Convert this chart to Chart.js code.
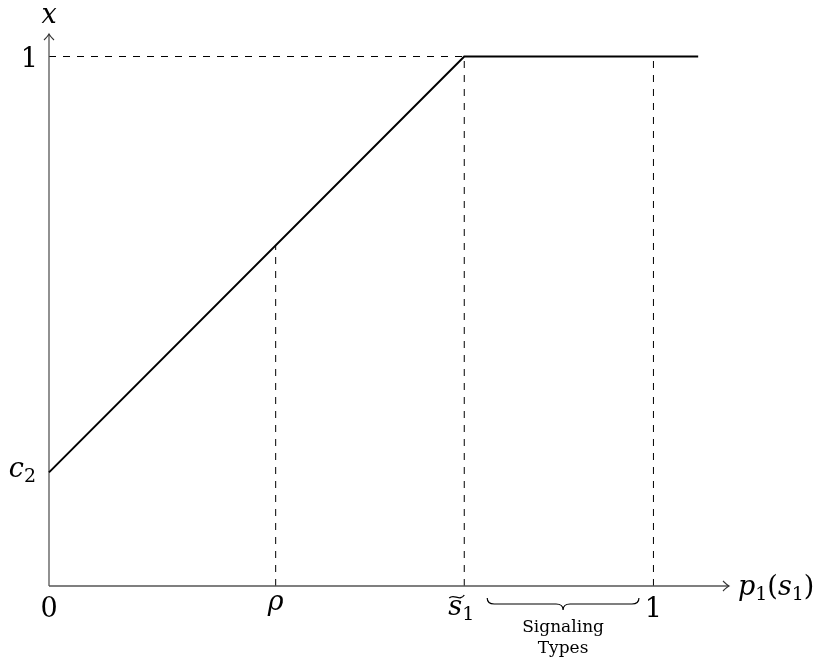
<!DOCTYPE html>
<html>
<head>
<meta charset="utf-8">
<script src="https://cdn.jsdelivr.net/npm/chart.js@4"></script>
<style>
  body { margin: 0; background: #fff; }
  canvas { display: block; }
</style>
</head>
<body>
<canvas id="chart" width="820" height="664"></canvas>
<script>
// The curve: rises linearly from c2 up to 1 at s~1, then stays flat
const curveP = [0, 0.687, 1.074];
const curveX = [0.2146, 1, 1];

// marked points on the horizontal axis
const rho = 0.375;
const sTilde = 0.687;
const one = 1;

// axis extents (where the arrow tips are)
const axisMaxP = 1.125;
const axisMaxX = 1.0425;

// brace under the signaling types
const braceRange = [0.725, 0.976];
const braceLabel = ['Signaling', 'Types'];

// height of the curve at rho, where the dashed line stops
const xAtRho = curveX[0] + (curveX[1] - curveX[0]) * (rho - curveP[0]) / (curveP[1] - curveP[0]);

const toPoints = (xs, ys) => xs.map((v, i) => ({ x: v, y: ys[i] }));

const dashed = {
    borderColor: '#000',
    borderWidth: 1,
    borderDash: [7, 7],
    showLine: true,
    pointRadius: 0,
    clip: false
};

const serif = '"DejaVu Serif", "Liberation Serif", serif';
const mathFont = 'italic 27px ' + serif;
const romanFont = '27px ' + serif;
const subFont = '19px ' + serif;

// draws a row of math pieces, e.g. p_1(s_1), starting at x
function drawMath(ctx, parts, x, y, align) {
    let width = 0;
    parts.forEach(p => {
        ctx.font = p.sub ? subFont : (p.it ? mathFont : romanFont);
        p.w = ctx.measureText(p.t).width;
        width += p.w;
    });
    let cx = align === 'center' ? x - width / 2 : (align === 'right' ? x - width : x);
    const start = cx;
    ctx.textAlign = 'left';
    ctx.textBaseline = 'alphabetic';
    parts.forEach(p => {
        ctx.font = p.sub ? subFont : (p.it ? mathFont : romanFont);
        ctx.fillText(p.t, cx, p.sub ? y + 5 : y);
        cx += p.w;
    });
    return start;
}

const decorations = {
    id: 'decorations',
    afterDatasetsDraw(chart) {
        const ctx = chart.ctx;
        const px = v => chart.scales.x.getPixelForValue(v);
        const py = v => chart.scales.y.getPixelForValue(v);
        ctx.save();

        // arrow heads
        ctx.strokeStyle = '#333';
        ctx.lineWidth = 1.1;
        const tx = px(axisMaxP), ty = py(0);
        ctx.beginPath();
        ctx.moveTo(tx - 6, ty - 5);
        ctx.quadraticCurveTo(tx - 2, ty - 1, tx, ty);
        ctx.quadraticCurveTo(tx - 2, ty + 1, tx - 6, ty + 5);
        ctx.stroke();
        const ux = px(0), uy = py(axisMaxX);
        ctx.beginPath();
        ctx.moveTo(ux - 5, uy + 6);
        ctx.quadraticCurveTo(ux - 1, uy + 2, ux, uy);
        ctx.quadraticCurveTo(ux + 1, uy + 2, ux + 5, uy + 6);
        ctx.stroke();

        ctx.fillStyle = '#000';
        // axis names
        drawMath(ctx, [{ t: 'x', it: true }], px(0), 23, 'center');
        drawMath(ctx, [{ t: 'p', it: true }, { t: '1', sub: true }, { t: '(' }, { t: 's', it: true }, { t: '1', sub: true }, { t: ')' }], tx + 9, 595, 'left');

        // vertical axis labels
        drawMath(ctx, [{ t: '1' }], 38, py(1) + 10, 'right');
        drawMath(ctx, [{ t: 'c', it: true }, { t: '2', sub: true }], 36, py(curveX[0]) + 5, 'right');

        // horizontal axis labels
        drawMath(ctx, [{ t: '0' }], px(0), 617, 'center');
        drawMath(ctx, [{ t: 'ρ', it: true }], px(rho), 610, 'center');
        const sx = drawMath(ctx, [{ t: 's', it: true }, { t: '1', sub: true }], px(sTilde) - 3, 615, 'center');
        drawMath(ctx, [{ t: '1' }], px(one), 617, 'center');

        // tilde over s
        ctx.strokeStyle = '#000';
        ctx.lineWidth = 1.3;
        ctx.beginPath();
        const tl = sx + 1, tw = 15, tyy = 597;
        ctx.moveTo(tl, tyy + 1);
        ctx.bezierCurveTo(tl + tw * 0.3, tyy - 4, tl + tw * 0.7, tyy + 5, tl + tw, tyy - 2);
        ctx.stroke();

        // brace
        const a = px(braceRange[0]), b = px(braceRange[1]), m = (a + b) / 2;
        const top = 598, mid = 604, bot = 610;
        ctx.lineWidth = 1.2;
        ctx.beginPath();
        ctx.moveTo(a, top);
        ctx.quadraticCurveTo(a, mid, a + 7, mid);
        ctx.lineTo(m - 7, mid);
        ctx.quadraticCurveTo(m, mid, m, bot);
        ctx.quadraticCurveTo(m, mid, m + 7, mid);
        ctx.lineTo(b - 7, mid);
        ctx.quadraticCurveTo(b, mid, b, top);
        ctx.stroke();

        ctx.font = '17px ' + serif;
        ctx.textAlign = 'center';
        ctx.textBaseline = 'alphabetic';
        ctx.fillText(braceLabel[0], m, 632);
        ctx.fillText(braceLabel[1], m, 653);

        ctx.restore();
    }
};

new Chart(document.getElementById('chart'), {
    type: 'scatter',
    data: {
        datasets: [
            {
                data: toPoints(curveP, curveX),
                borderColor: '#000',
                borderWidth: 2,
                showLine: true,
                pointRadius: 0,
                clip: false
            },
            // axes
            {
                data: toPoints([0, axisMaxP], [0, 0]),
                borderColor: '#555',
                borderWidth: 1.3,
                showLine: true,
                pointRadius: 0,
                clip: false
            },
            {
                data: toPoints([0, 0], [0, axisMaxX]),
                borderColor: '#555',
                borderWidth: 1.3,
                showLine: true,
                pointRadius: 0,
                clip: false
            },
            // dashed guides
            Object.assign({ data: toPoints([0, sTilde], [1, 1]) }, dashed),
            Object.assign({ data: toPoints([rho, rho], [0, xAtRho]) }, dashed),
            Object.assign({ data: toPoints([sTilde, sTilde], [0, 1]) }, dashed),
            Object.assign({ data: toPoints([one, one], [0, 1]) }, dashed)
        ]
    },
    options: {
        responsive: false,
        animation: false,
        layout: { padding: { left: 49, right: 91, top: 34, bottom: 78 } },
        scales: {
            x: { type: 'linear', min: 0, max: axisMaxP, display: false },
            y: { type: 'linear', min: 0, max: axisMaxX, display: false }
        },
        plugins: {
            legend: { display: false },
            tooltip: { enabled: false }
        }
    },
    plugins: [decorations]
});
</script>
</body>
</html>
